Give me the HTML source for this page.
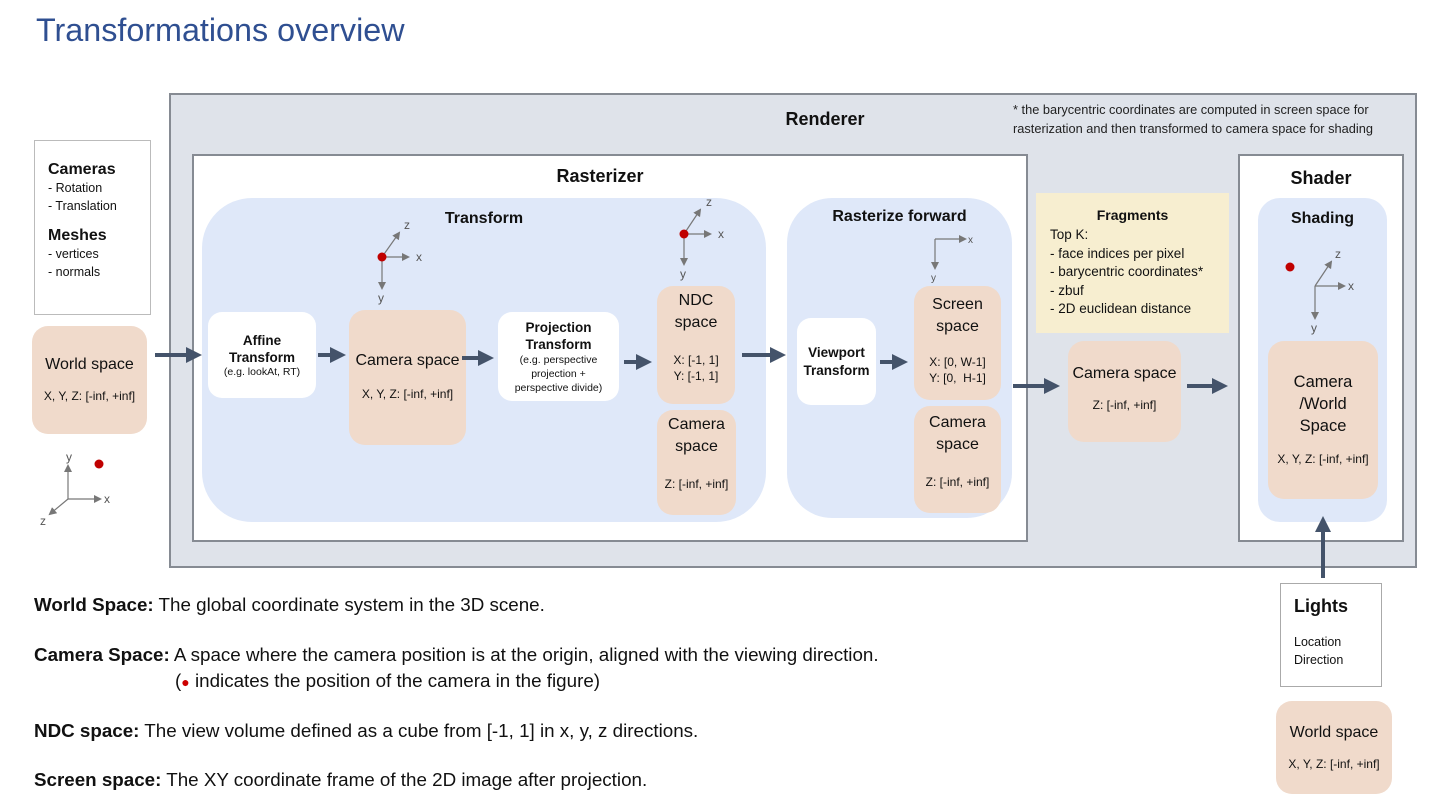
<!DOCTYPE html>
<html><head><meta charset="utf-8"><style>
*{margin:0;padding:0;box-sizing:border-box}
body{width:1440px;height:810px;background:#fff;position:relative;overflow:hidden;font-family:"Liberation Sans",sans-serif;color:#111}
.a{position:absolute}
.c{display:flex;flex-direction:column;align-items:center;text-align:center}
.pe{background:#f0dacb;border-radius:16px}
.wh{background:#fff;border-radius:14px}
.bl{background:#dfe8f9;border-radius:50px}
b{font-weight:bold}
.t{font-size:16px;line-height:22px}
.s{font-size:12px;line-height:16px}
.btxt{font-size:18.8px;position:absolute;left:34px}
</style></head><body>
<div class="a" style="left:36px;top:12px;font-size:32.3px;color:#2f4f91">Transformations overview</div>

<div class="a" style="left:169px;top:93px;width:1248px;height:475px;background:#dfe3ea;border:2px solid #868b93"></div>
<div class="a" style="left:700px;top:109px;width:250px;text-align:center;font-size:18px;font-weight:bold">Renderer</div>
<div class="a" style="left:1013px;top:100px;font-size:12.8px;line-height:19px;color:#222">* the barycentric coordinates are computed in screen space for<br>rasterization and then transformed to camera space for shading</div>

<div class="a" style="left:192px;top:154px;width:836px;height:388px;background:#fff;border:2px solid #868b93"></div>
<div class="a" style="left:500px;top:166px;width:200px;text-align:center;font-size:18px;font-weight:bold">Rasterizer</div>

<div class="a bl" style="left:202px;top:198px;width:564px;height:324px"></div>
<div class="a" style="left:384px;top:210px;width:200px;text-align:center;font-size:16px;font-weight:bold">Transform</div>
<div class="a wh c" style="left:208px;top:312px;width:108px;height:86px;justify-content:center"><div style="font-size:13.5px;font-weight:bold;line-height:17px">Affine<br>Transform</div><div style="font-size:10.5px">(e.g. lookAt, RT)</div></div>
<div class="a pe c" style="left:349px;top:310px;width:117px;height:135px;padding-top:40px"><div class="t">Camera space</div><div class="s" style="margin-top:14px">X, Y, Z: [-inf, +inf]</div></div>
<div class="a wh c" style="left:498px;top:312px;width:121px;height:89px;justify-content:center"><div style="font-size:13.5px;font-weight:bold;line-height:17px">Projection<br>Transform</div><div style="font-size:10.5px;line-height:14px">(e.g. perspective<br>projection +<br>perspective divide)</div></div>
<div class="a pe c" style="left:657px;top:286px;width:78px;height:118px;padding-top:4px"><div class="t">NDC<br>space</div><div class="s" style="margin-top:18px">X: [-1, 1]<br>Y: [-1, 1]</div></div>
<div class="a pe c" style="left:657px;top:410px;width:79px;height:105px;padding-top:4px"><div class="t">Camera<br>space</div><div class="s" style="margin-top:18px">Z: [-inf, +inf]</div></div>

<div class="a bl" style="left:787px;top:198px;width:225px;height:320px;border-radius:45px"></div>
<div class="a" style="left:787px;top:208px;width:225px;text-align:center;font-size:16px;font-weight:bold">Rasterize forward</div>
<div class="a wh c" style="left:797px;top:318px;width:79px;height:87px;justify-content:center"><div style="font-size:13.5px;font-weight:bold;line-height:18px">Viewport<br>Transform</div></div>
<div class="a pe c" style="left:914px;top:286px;width:87px;height:114px;padding-top:8px"><div class="t">Screen<br>space</div><div class="s" style="margin-top:16px">X: [0, W-1]<br>Y: [0,&nbsp; H-1]</div></div>
<div class="a pe c" style="left:914px;top:406px;width:87px;height:107px;padding-top:6px"><div class="t">Camera<br>space</div><div class="s" style="margin-top:18px">Z: [-inf, +inf]</div></div>

<div class="a" style="left:1036px;top:193px;width:193px;height:140px;background:#f7eed0"></div>
<div class="a" style="left:1036px;top:207px;width:193px;text-align:center;font-size:14px;font-weight:bold">Fragments</div>
<div class="a" style="left:1050px;top:226px;font-size:13.5px;line-height:18.5px">Top K:<br>- face indices per pixel<br>- barycentric coordinates*<br>- zbuf<br>- 2D euclidean distance</div>
<div class="a pe c" style="left:1068px;top:341px;width:113px;height:101px;padding-top:22px"><div class="t">Camera space</div><div class="s" style="margin-top:12px">Z: [-inf, +inf]</div></div>

<div class="a" style="left:1238px;top:154px;width:166px;height:388px;background:#fff;border:2px solid #868b93"></div>
<div class="a" style="left:1238px;top:168px;width:166px;text-align:center;font-size:18px;font-weight:bold">Shader</div>
<div class="a bl" style="left:1258px;top:198px;width:129px;height:324px;border-radius:22px"></div>
<div class="a" style="left:1258px;top:210px;width:129px;text-align:center;font-size:16px;font-weight:bold">Shading</div>
<div class="a pe c" style="left:1268px;top:341px;width:110px;height:158px;padding-top:30px"><div class="t" style="font-size:16.5px">Camera<br>/World<br>Space</div><div class="s" style="margin-top:14px">X, Y, Z: [-inf, +inf]</div></div>

<div class="a" style="left:34px;top:140px;width:117px;height:175px;border:1px solid #bbb;padding:20px 0 0 13px"><div style="font-size:16px;font-weight:bold">Cameras</div><div style="font-size:12.5px;line-height:18px">- Rotation<br>- Translation</div><div style="font-size:16px;font-weight:bold;margin-top:12px">Meshes</div><div style="font-size:12.5px;line-height:18px">- vertices<br>- normals</div></div>
<div class="a pe c" style="left:32px;top:326px;width:115px;height:108px;padding-top:28px"><div class="t">World space</div><div class="s" style="margin-top:12px">X, Y, Z: [-inf, +inf]</div></div>

<div class="a" style="left:1280px;top:583px;width:102px;height:104px;border:1px solid #aaa;padding:12px 0 0 13px"><div style="font-size:18px;font-weight:bold">Lights</div><div style="font-size:12.5px;line-height:18px;margin-top:16px">Location<br>Direction</div></div>
<div class="a pe c" style="left:1276px;top:701px;width:116px;height:93px;padding-top:21px"><div class="t">World space</div><div class="s" style="margin-top:12px">X, Y, Z: [-inf, +inf]</div></div>

<div class="btxt" style="top:594px"><b>World Space:</b> The global coordinate system in the 3D scene.</div>
<div class="btxt" style="top:644px"><b>Camera Space:</b> A space where the camera position is at the origin, aligned with the viewing direction.</div>
<div class="btxt" style="top:670px;left:175px">(<span style="color:#c00;font-size:14px">●</span> indicates the position of the camera in the figure)</div>
<div class="btxt" style="top:720px"><b>NDC space:</b> The view volume defined as a cube from [-1, 1] in x, y, z directions.</div>
<div class="btxt" style="top:769px"><b>Screen space:</b> The XY coordinate frame of the 2D image after projection.</div>

<svg class="a" style="left:0;top:0" width="1440" height="810">
<defs>
<marker id="ah" markerWidth="4" markerHeight="4" refX="2" refY="2" orient="auto" markerUnits="strokeWidth"><path d="M0,0L4,2L0,4Z" fill="#44536a"/></marker>
<marker id="sh" markerWidth="8" markerHeight="8" refX="6" refY="4" orient="auto" markerUnits="userSpaceOnUse"><path d="M0,0L8,4L0,8Z" fill="#777"/></marker>
</defs>
<g stroke="#44536a" stroke-width="4" marker-end="url(#ah)">
<line x1="155" y1="355" x2="194" y2="355"/>
<line x1="318" y1="355" x2="338" y2="355"/>
<line x1="462" y1="358" x2="486" y2="358"/>
<line x1="624" y1="362" x2="644" y2="362"/>
<line x1="742" y1="355" x2="778" y2="355"/>
<line x1="880" y1="362" x2="900" y2="362"/>
<line x1="1013" y1="386" x2="1052" y2="386"/>
<line x1="1187" y1="386" x2="1220" y2="386"/>
<line x1="1323" y1="578" x2="1323" y2="524"/>
</g>
<g stroke="#777" stroke-width="1.2" fill="none">
<line x1="382" y1="257" x2="382" y2="288" marker-end="url(#sh)"/><line x1="382" y1="257" x2="408" y2="257" marker-end="url(#sh)"/><line x1="382" y1="257" x2="399" y2="233" marker-end="url(#sh)"/>
<line x1="684" y1="234" x2="684" y2="264" marker-end="url(#sh)"/><line x1="684" y1="234" x2="710" y2="234" marker-end="url(#sh)"/><line x1="684" y1="234" x2="700" y2="210" marker-end="url(#sh)"/>
<line x1="935" y1="239" x2="935" y2="268" marker-end="url(#sh)"/><line x1="935" y1="239" x2="965" y2="239" marker-end="url(#sh)"/>
<line x1="1315" y1="286" x2="1315" y2="318" marker-end="url(#sh)"/><line x1="1315" y1="286" x2="1344" y2="286" marker-end="url(#sh)"/><line x1="1315" y1="286" x2="1331" y2="262" marker-end="url(#sh)"/>
<line x1="68" y1="499" x2="68" y2="466" marker-end="url(#sh)"/><line x1="68" y1="499" x2="100" y2="499" marker-end="url(#sh)"/><line x1="68" y1="499" x2="50" y2="514" marker-end="url(#sh)"/>
</g>
<g fill="#555" font-family="Liberation Sans" font-size="12">
<text x="404" y="229">z</text><text x="416" y="261">x</text><text x="378" y="302">y</text>
<text x="706" y="206">z</text><text x="718" y="238">x</text><text x="680" y="278">y</text>
<text x="968" y="243" font-size="10">x</text><text x="931" y="281" font-size="10">y</text>
<text x="1335" y="258">z</text><text x="1348" y="290">x</text><text x="1311" y="332">y</text>
<text x="66" y="461">y</text><text x="104" y="503">x</text><text x="40" y="525">z</text>
</g>
<g fill="#c00000"><circle cx="382" cy="257" r="4.5"/><circle cx="684" cy="234" r="4.5"/><circle cx="1290" cy="267" r="4.5"/><circle cx="99" cy="464" r="4.5"/></g>
</svg>
</body></html>
